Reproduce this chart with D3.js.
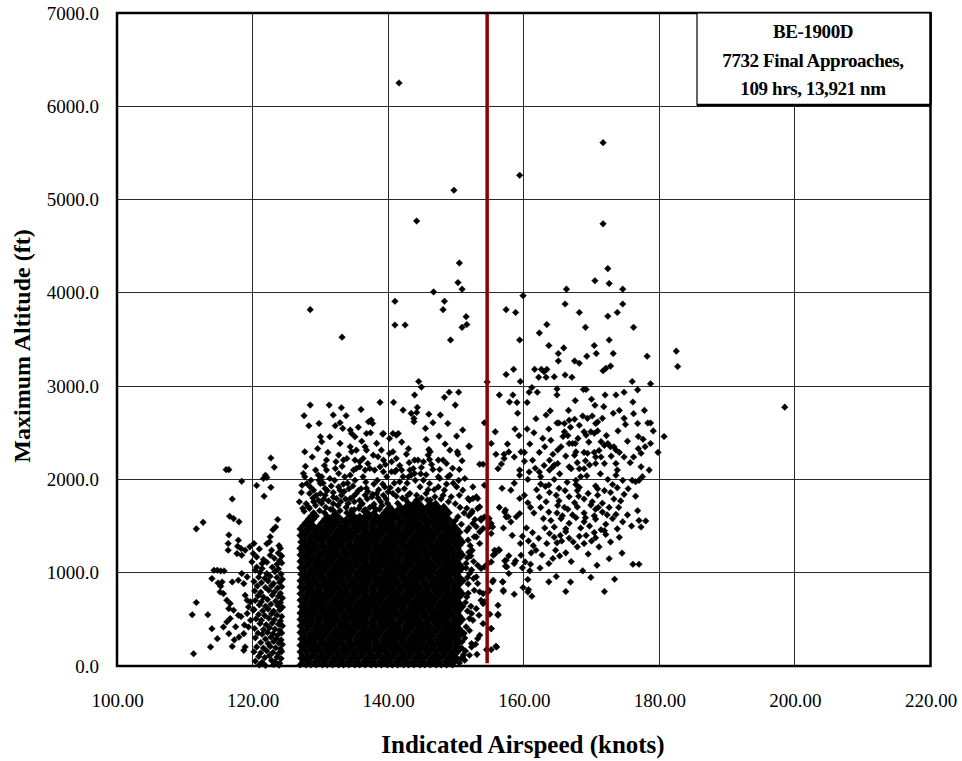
<!DOCTYPE html>
<html>
<head>
<meta charset="utf-8">
<script src="https://cdn.jsdelivr.net/npm/d3@7"></script>
<style>
  body { margin: 0; background: #fff; }
  text { font-family: "Liberation Serif", "Times New Roman", serif; fill: #000; }
</style>
</head>
<body>
<svg id="chart" width="962" height="761"></svg>
<script>
// Axis ticks
const xTicks = [100, 120, 140, 160, 180, 200, 220];
const yTicks = [0, 1000, 2000, 3000, 4000, 5000, 6000, 7000];

// Speed limit reference line (knots)
const refSpeed = 154.6;

const legendLines = ["BE-1900D", "7732 Final Approaches,", "109 hrs, 13,921 nm"];

// [indicated airspeed (kt), max altitude (ft)]
const highPoints = [
  [141.6,6250],[171.7,5610],[159.4,5260],[149.7,5100],[144.2,4770],[171.7,4740],[150.5,4320],[172.4,4260],
  [150.3,4110],[150.9,4040],[170.5,4130],[172.6,4100],[146.7,4010],[166.3,4040],[174.6,4040],[159.9,3970],
  [141.0,3910],[148.3,3910],[128.5,3820],[148.1,3820],[157.4,3820],[158.8,3790],[166.1,3880],[168.2,3790],
  [172.4,3750],[173.8,3790],[174.6,3880],[151.5,3745],[141.0,3655],[142.5,3655],[151.6,3660],[150.9,3630],
  [163.4,3660],[169.1,3630],[176.2,3630],[133.2,3525],[149.2,3495],[159.4,3495],[172.6,3495],[162.3,3570],
  [163.7,3435],[165.9,3410],[170.4,3435],[165.1,3350],[170.7,3350],[173.2,3350],[178.2,3320],[182.5,3375],
  [182.7,3210],[165.1,3270],[167.5,3270],[168.2,3245],[169.3,3320],[172.8,3215],[171.7,3165],[172.1,3190],
  [161.6,3180],[162.6,3180],[163.0,3155],[163.4,3180],[162.2,3095],[163.3,3095],[164.5,3100],[166.1,3120],
  [167.1,3095],[157.4,3125],[158.5,3180],[159.5,3050],[161.2,2985],[176.0,3050],[178.7,3025],[176.8,2960],
  [144.5,3050],[144.9,2990],[143.9,2905],[149.0,2935],[150.4,2935],[148.3,2880],[154.6,3045],[160.8,2935],
  [162.0,2935],[164.9,2970],[164.9,2905],[168.8,2965],[169.2,2965],[172.0,2905],[173.6,2905],[174.8,2935],
  [156.4,2905],[158.4,2905],[198.5,2775]
];

const fastGroup = [
  [159.0,2825],[157.9,2830],[160.5,2825],[176.1,2830],[159.1,2710],[163.9,2735],[166.6,2740],[167.6,2845],
  [170.5,2795],[173.2,2710],[176.2,2705],[177.8,2740],[155.8,2510],[158.7,2540],[160.5,2540],[159.3,2470],
  [163.7,2540],[164.9,2605],[165.2,2605],[166.0,2600],[166.7,2635],[167.5,2645],[168.7,2680],[169.4,2655],
  [170.1,2680],[170.9,2615],[171.6,2655],[174.8,2655],[176.8,2600],[178.3,2605],[178.7,2605],[180.7,2460],
  [179.8,2290],[155.2,2385],[155.9,2270],[157.1,2270],[157.8,2295],[158.6,2240],[159.6,2295],[156.2,2115],
  [156.7,2165],[157.1,2225],[159.4,2100],[159.4,2045],[160.1,2195],[161.3,2205],[162.3,2290],[160.8,2080],
  [162.3,2080],[162.5,2030],[163.8,2205],[164.3,2270],[165.0,2315],[165.5,2350],[164.5,2155],[165.0,2170],
  [166.0,2510],[166.5,2470],[166.7,2385],[167.2,2385],[167.6,2385],[168.2,2580],[168.9,2510],[169.2,2475],
  [169.9,2510],[170.4,2495],[170.6,2600],[171.4,2405],[171.9,2365],[172.4,2385],[172.8,2350],[173.3,2350],
  [173.6,2315],[168.9,2290],[169.4,2280],[170.4,2290],[170.6,2240],[167.7,2295],[167.5,2260],[166.7,2135],
  [167.0,2115],[168.2,2115],[168.9,2115],[169.7,2155],[170.6,2170],[171.4,2240],[171.9,2170],[173.6,2170],
  [173.8,2100],[173.6,2045],[174.8,2240],[176.2,2240],[177.3,2280],[177.9,2350],[178.7,2385],[177.3,2135],
  [178.5,2100],[177.5,2030],[177.0,1990],[176.0,1990],[176.5,1975],[163.8,2100],[164.3,2135],[167.7,1990],
  [168.4,2030],[162.5,1950],[163.2,1925],[163.7,1940],[165.2,1905],[167.7,1945],[168.2,1915],[170.6,1930],
  [170.9,1900],[173.1,1945],[173.8,1910],[162.3,1810],[163.8,1860],[165.2,1770],[166.7,1815],[167.5,1750],
  [167.9,1880],[168.9,1790],[170.1,1760],[170.9,1830],[171.6,1745],[172.8,1860],[174.3,1770],[176.5,1820],
  [162.5,1700],[163.7,1650],[165.0,1720],[165.7,1610],[166.5,1680],[167.2,1620],[167.9,1705],[168.9,1640],
  [169.9,1725],[170.4,1610],[170.6,1680],[171.6,1650],[172.6,1700],[173.6,1625],[176.8,1665],[164.0,1560],
  [164.5,1490],[165.5,1580],[166.2,1470],[166.7,1530],[167.7,1590],[168.4,1480],[168.9,1545],[169.7,1500],
  [170.6,1575],[171.4,1460],[172.1,1520],[173.1,1580],[173.8,1470],[174.6,1545],[177.0,1560],[178.0,1555],
  [177.3,1490],[163.8,1420],[164.5,1380],[166.2,1440],[166.7,1370],[169.2,1400],[170.4,1430],[170.6,1375],
  [172.1,1410],[156.8,1905],[158.1,1885],[159.4,1795],[157.2,1650],[157.7,1600],[158.1,1545],[158.9,1600],
  [159.4,1635],[160.6,1750],[160.1,1830],[161.0,1700],[160.4,1480],[161.3,1430],[159.8,1390],
  [159.5,1313],[160.7,1340],[163.4,1313],[164.9,1320],[165.6,1340],[167.9,1277],[168.9,1313],[171.1,1277],
  [164.7,1241],[166.2,1213],[161.8,1241],[161.1,1213],[159.6,1188],[157.8,1181],[157.2,1127],[158.8,1127],
  [158.6,1098],[155.8,1206],[156.3,1249],[155.5,1188],[160.2,1116],[161.0,1091],[163.7,1098],[164.3,1152],
  [157.5,1063],[157.8,991],[159.8,1052],[160.9,1020],[168.7,1020],[176.1,1091],[177.0,1091],[163.7,902],
  [160.6,927],[156.9,902],[155.4,902],[159.9,841],[160.7,819],[161.2,748],[160.6,794],[158.6,769],
  [157.0,798],[166.2,798],[171.9,798],[173.4,930],[156.2,651],[156.2,555],[155.0,555],[155.2,401],
  [156.0,204],[155.2,175],
  [160.9,2380],[161.5,2500],[162.8,2440],[163.1,2350],[164.0,2420],[165.8,2460],[166.9,2560],[168.0,2440],
  [169.6,2400],[170.9,2520],[172.2,2470],[173.9,2520],[175.3,2410],[176.9,2460],[174.1,2290],[175.7,2180],
  [176.9,2330],[172.9,2250],[171.1,2310],[169.1,2200],[167.9,2180],[166.2,2250],[165.3,2060],[163.0,2150],
  [161.7,2120],[160.6,2000],[161.9,1890],[164.5,2000],[166.4,1970],[169.3,2040],[171.3,2060],[172.4,2000],
  [174.6,1990],[175.4,1900],[174.8,1840],[173.3,1790],[171.9,1880],[169.5,1850],[168.1,1820],[166.1,1880],
  [164.8,1830],[163.3,1760],[161.5,1640],[162.9,1580],[164.9,1640],[166.0,1700],[169.1,1590],[171.0,1700],
  [172.3,1620],[174.0,1700],[175.3,1620],[175.9,1500],[174.1,1380],[172.8,1330],[171.9,1450],[170.0,1340],
  [168.2,1390],[167.3,1330],[165.4,1400],[163.1,1480],[162.2,1370],[161.4,1290],[162.7,1190],[165.3,1180],
  [167.0,1120],[169.5,1200],[170.8,1080],[172.6,1150],[174.5,1210],[162.4,1050],[164.8,960],[166.9,900],
  [169.9,950],[158.3,1400],[157.0,1480],[156.4,1700],[158.6,1960],[160.1,2290],[157.6,2380],[161.8,2650],
  [163.3,2690],[171.8,2780],[174.1,2740],[170.0,2860],[175.0,2590],[177.6,2430],[179.1,2520]
];

// Points between the dense block and the 154.6 kt line
const nearLimit = [
  [153.7,1581],[154.9,1581],[155.2,1528],[157.3,1671],[157.4,1599],[153.0,1492],[153.5,1438],[154.0,1474],
  [152.7,1385],[153.5,1313],[155.7,1241],[156.4,1241],[155.2,1116],[154.7,1098],[157.4,1134],[157.3,1070],
  [153.2,1080],[153.7,1045],[154.2,1063],[152.0,991],[152.6,937],[153.0,955],[153.2,884],[155.5,920],
  [156.9,902],[157.0,812],[152.7,812],[153.5,794],[154.0,776],[154.7,794],[153.7,705],[154.2,687],
  [156.2,544],[153.0,615],[152.3,562],[153.4,544],[152.0,508],[152.5,490],[154.0,454],[155.2,401],
  [153.5,329],[153.2,293],[152.3,240],[152.9,233],[155.9,211],[152.3,204],[152.0,115],[153.1,125],
  [154.5,175],[151.0,97],[151.3,61],[150.5,32],[154.0,669],[154.9,812],[152.0,1777],[152.5,1795],
  [153.2,1795],[153.5,1706],[154.2,1598],[154.9,1491],[153.7,1563],[155.4,1491],[155.2,1420],[152.5,1527],
  [153.0,1384],[152.0,2353],[153.5,2163],[154.0,2163],[151.6,1450],[151.8,1350],[151.9,1220],[151.7,1160],
  [152.1,1290],[151.5,1050],[151.8,880],[151.6,740],[151.4,680],[151.5,420],[151.2,350],[150.9,260],
  [151.4,160],[150.8,80],[151.9,1610],[151.6,1690],[152.4,1660],
  [151.9,1480],[152.2,1180],[151.5,1100],[152.3,1030],[151.7,950],[152.6,1120],[151.8,780],[152.2,640],
  [151.7,590],[152.0,380],[151.3,300],[150.9,190],[151.1,120],[152.4,1240],[152.8,1570],[152.3,1640],
  [153.2,1690]
];

// Sparse points above the dense block
const upperFringe = [
  [128.5,2797],[131.3,2797],[133.1,2768],[127.6,2683],[128.3,2575],[133.8,2683],[132.2,2575],[132.9,2607],
  [133.3,2547],[134.4,2529],[134.6,2493],[130.0,2457],[130.2,2404],[131.4,2457],[132.9,2386],[135.1,2457],
  [136.8,2493],[137.5,2636],[137.1,2618],[137.7,2600],[138.8,2826],[140.8,2826],[138.3,2386],[139.3,2493],
  [140.2,2439],[140.7,2493],[141.2,2475],[127.7,2296],[134.4,2350],[134.6,2296],[135.3,2314],[136.6,2350],
  [136.8,2314],[132.7,2261],[132.3,2189],[133.4,2207],[133.9,2225],[130.9,2207],[135.1,2207],[135.8,2189],
  [136.3,2225],[137.8,2260],[138.5,2243],[139.0,2314],[139.3,2207],[140.2,2278],[140.5,2189],[140.7,2296],
  [141.2,2225],[127.5,2064],[127.7,2028],[127.3,1938],[128.0,1956],[128.5,1920],[129.0,1885],[129.7,2046],
  [130.2,2028],[130.0,1956],[130.7,1903],[131.4,2010],[130.9,2100],[132.2,2117],[132.7,2064],[132.7,1920],
  [132.9,1885],[133.6,2028],[134.4,2046],[134.9,2100],[135.3,2117],[135.8,2135],[136.3,2028],[136.6,2100],
  [137.3,2117],[138.0,2100],[138.8,2135],[139.3,2082],[139.8,2028],[140.5,2082],[141.2,2100],[126.9,1760],
  [128.2,1706],[129.7,1777],[130.2,1742],[130.7,1831],[130.0,1849],[132.4,1795],[133.1,1831],[134.1,1742],
  [134.4,1795],[135.3,1849],[135.8,1777],[136.6,1831],[137.6,1813],[138.3,1849],[139.3,1831],[140.0,1867],
  [140.7,1849],[141.5,1885],[128.9,1800],[131.2,1770],[133.0,1760],[134.9,1820],[136.2,1740],[137.0,1870],
  [138.9,1760],[139.7,1790],[131.9,1860],[129.3,1720],[127.4,1690],[131.6,1930],[134.0,1960],[136.0,1900],
  [137.9,1950],[139.5,1920],[135.1,1990],[129.8,1990],
  [149.9,2797],[142.2,2743],[143.4,2708],[144.2,2718],[143.8,2654],[143.8,2618],[144.3,2772],[147.7,2690],
  [146.6,2608],[145.5,2547],[147.5,2464],[150.1,2464],[145.6,2429],[139.2,2486],[141.5,2493],[151.9,2357],
  [146.0,2321],[146.2,2296],[145.9,2261],[149.1,2314],[150.2,2296],[150.3,2271],[142.7,2271],[154.2,2607],
  [143.9,2207],[144.4,2207],[145.2,2189],[146.1,2214],[147.4,2207],[148.1,2207],[148.6,2171],[150.5,2107],
  [147.6,2107],[146.6,2107],[144.9,2128],[143.7,2117],[143.2,2100],[142.0,2100],[141.0,2082],[143.0,2028],
  [143.4,2046],[143.9,2064],[147.4,2028],[147.6,2010],[148.8,2028],[149.1,2046],[145.2,1992],[146.1,1956],
  [141.7,1974],[144.7,1920],[147.4,1920],[148.3,1885],[150.1,1920],[151.0,1885],[152.5,1920],[154.2,1938],
  [143.2,1849],[144.2,1831],[145.6,1849],[146.9,1813],[148.1,1831],[149.3,1813],[150.5,1831],[151.8,1795],
  [153.0,1813],[142.4,1900],[145.9,1890],[149.6,1960],[151.3,2010],[142.8,1960],
  [127.6,1660],[128.4,1690],[129.9,1665],[130.8,1700],[131.5,1680],[132.9,1665],[133.8,1700],[134.6,1672],
  [135.7,1690],[136.4,1660],[137.3,1700],[138.7,1680],[139.1,1720],[127.9,1740],[129.0,1760],[130.5,1790],
  [131.9,1740],[132.6,1720],[133.7,1790],[135.0,1760],[135.9,1720],[136.9,1790],[137.9,1735],[138.5,1800],
  [139.9,1745],[128.4,1850],[129.4,1830],[131.0,1880],[131.9,1810],[133.5,1870],[134.2,1900],[135.6,1880],
  [136.8,1905],[137.7,1840],[138.6,1890],[140.3,1910],[141.2,1820],[142.1,1800],[142.9,1830],[144.9,1800],
  [146.2,1780],[147.8,1790],[148.9,1760],[149.9,1740],[150.6,1700],[151.2,1640],[150.3,1600],[149.9,1560],
  [150.8,1520],[128.6,1990],[130.4,1960],[132.1,1990],[133.4,1950],[134.8,1930],[136.7,1970],[138.4,1990],
  [139.2,1950],[140.9,1960],[142.2,2030],[144.0,1990],[145.6,2050],[146.8,1890],[148.6,1950],[150.4,1990],
  [127.2,1860],[127.8,2140],[129.3,2100],[130.6,2150],[133.2,2140],[137.0,2170],[139.6,2160],[141.7,2150],
  [143.1,2180],[144.8,2060],[146.4,2160],[149.5,2120],[150.9,2200],[128.8,2240],[129.6,2330],[131.1,2290],
  [136.1,2410],[137.4,2500],[142.0,2400],[143.0,2330],[148.4,2380],[151.0,2530],[146.0,2700],[148.8,2600],
  [131.9,2690],[135.6,2560],[129.8,2600],[136.0,2750]
];

// Slower approaches (111-125 kt)
const slowGroup = [
  [111.7,1470],[112.7,1540],[116.1,2105],[116.5,2105],[118.4,1980],[117.0,1790],[116.6,1605],[117.2,1580],
  [118.0,1545],[116.5,1405],[111.7,680],[111.1,550],[113.4,550],[114.0,400],[114.8,293],[113.8,204],
  [111.3,132],[114.3,1026],[114.8,1026],[115.3,1019],[115.8,1019],[114.0,937],[114.9,890],[115.3,855],
  [117.9,1348],[117.8,1284],[118.3,1259],[118.9,1241],[119.6,1277],[120.2,1313],[117.7,1205],[118.4,1187],
  [116.4,1313],[116.4,1241],[115.5,901],[117.0,901],[117.9,919],[118.4,991],[119.2,955],[118.7,883],
  [115.2,794],[115.7,776],[116.2,705],[116.7,669],[116.5,615],[117.2,597],[117.9,544],[116.7,508],
  [116.2,472],[115.7,418],[116.5,347],[118.9,758],[119.2,705],[119.7,687],[119.4,633],[120.1,597],
  [119.2,562],[119.7,490],[119.4,418],[118.7,347],[118.9,204],[118.7,168],[117.5,420],[118.3,530],
  [118.8,440],[117.3,280],[117.0,210],[118.0,310],
  [120.6,1935],[122.7,1915],[121.7,1820],[122.7,2230],[123.2,2130],[121.9,2045],[121.6,2010],[122.1,2020],
  [123.7,1570],[123.4,1490],[123.0,1460],[122.6,1385],
  [122.1,1310],[122.5,1332],[123.9,1290],[121.0,1255],[122.8,1240],[124.1,1262],[120.1,1205],[122.6,1188],
  [123.8,1210],[124.3,1180],[120.6,1168],[121.6,1142],[123.2,1155],[124.0,1130],[119.9,1116],[121.4,1098],
  [122.1,1112],[123.6,1090],[124.3,1105],[120.6,1060],[121.4,1045],[122.9,1058],[123.8,1040],[120.4,1026],
  [121.1,1002],[122.1,990],[123.3,1012],[124.2,985],[120.9,952],[121.8,940],[122.6,962],[123.6,948],
  [124.4,930],[120.2,905],[121.3,892],[122.3,910],[123.1,885],[124.0,898],[120.7,858],[121.9,842],
  [122.8,860],[123.7,836],[124.3,850],[120.3,805],[121.2,790],[122.4,812],[123.2,795],[124.1,780],
  [120.8,752],[121.6,740],[122.9,760],[123.8,745],[124.4,728],[120.4,702],[121.3,690],[122.2,712],
  [123.4,695],[124.1,680],[121.0,655],[121.9,640],[122.7,662],[123.7,648],[124.4,630],[120.2,605],
  [121.5,592],[122.3,610],[123.1,588],[124.0,600],[120.9,552],[121.8,540],[122.8,560],[123.6,545],
  [124.3,530],[120.5,505],[121.3,490],[122.4,512],[123.2,495],[124.1,482],[121.1,455],[122.0,442],
  [122.9,460],[123.8,448],[124.4,430],[120.3,402],[121.6,390],[122.5,410],[123.3,395],[124.0,380],
  [120.8,352],[121.4,340],[122.2,360],[123.0,345],[123.7,330],[124.3,355],[120.4,302],[121.9,290],
  [122.7,310],[123.5,295],[124.2,280],[121.2,252],[122.3,240],[123.1,262],[123.9,245],[124.4,230],
  [120.6,205],[121.6,192],[122.6,210],[123.4,195],[124.1,180],[120.2,152],[121.2,140],[122.1,160],
  [123.0,145],[123.8,130],[124.3,155],[120.9,102],[121.8,90],[122.5,110],[123.6,95],[124.2,80],
  [120.4,52],[121.4,40],[122.8,60],[123.3,45],[124.0,30],[121.0,12],[121.9,5],[123.1,15],[123.9,8]
];

// Dense block of approaches: [altitude, airspeeds observed at that altitude]
const coreRows = [
  [12,  [127.0,127.9,128.6,129.4,130.3,131.0,131.8,132.7,133.4,134.2,135.1,135.8,136.6,137.5,138.2,139.0,139.9,140.6,141.4,142.3,143.0,143.8,144.7,145.4,146.2,147.1,147.8,148.6,149.5]],
  [46,  [127.4,128.2,129.1,129.8,130.6,131.5,132.2,133.0,133.9,134.6,135.4,136.3,137.0,137.8,138.7,139.4,140.2,141.1,141.8,142.6,143.5,144.2,145.0,145.9,146.6,147.4,148.3,149.0,149.8]],
  [83,  [127.1,127.8,128.6,129.5,130.2,131.0,131.9,132.6,133.4,134.3,135.0,135.8,136.7,137.4,138.2,139.1,139.8,140.6,141.5,142.2,143.0,143.9,144.6,145.4,146.3,147.0,147.8,148.7,149.4,150.2]],
  [117, [127.3,128.2,129.0,129.9,130.6,131.4,132.3,133.0,133.8,134.7,135.4,136.2,137.1,137.8,138.6,139.5,140.2,141.0,141.9,142.6,143.4,144.3,145.0,145.8,146.7,147.4,148.2,149.1,149.8]],
  [152, [127.0,127.8,128.7,129.4,130.2,131.1,131.8,132.6,133.5,134.2,135.0,135.9,136.6,137.4,138.3,139.0,139.8,140.7,141.4,142.2,143.1,143.8,144.6,145.5,146.2,147.0,147.9,148.6,149.4,150.3]],
  [186, [127.4,128.3,129.0,129.8,130.7,131.4,132.2,133.1,133.8,134.6,135.5,136.2,137.0,137.9,138.6,139.4,140.3,141.0,141.8,142.7,143.4,144.2,145.1,145.8,146.6,147.5,148.2,149.0,149.9,150.6]],
  [221, [127.0,127.8,128.6,129.4,130.3,131.0,131.8,132.6,133.4,134.3,135.0,135.8,136.6,137.4,138.3,139.0,139.8,140.6,141.4,142.3,143.0,143.8,144.6,145.4,146.3,147.0,147.8,148.6,149.4,150.2]],
  [255, [127.4,128.2,129.0,129.9,130.6,131.4,132.2,133.0,133.9,134.6,135.4,136.2,137.0,137.9,138.6,139.4,140.2,141.0,141.9,142.6,143.4,144.2,145.0,145.9,146.6,147.4,148.2,149.0,149.9,150.6]],
  [290, [127.1,127.8,128.6,129.4,130.2,131.1,131.8,132.6,133.4,134.2,135.1,135.8,136.6,137.4,138.2,139.1,139.8,140.6,141.4,142.2,143.1,143.8,144.6,145.4,146.2,147.1,147.8,148.6,149.4,150.2]],
  [325, [127.4,128.3,129.0,129.8,130.6,131.5,132.2,133.0,133.8,134.6,135.5,136.2,137.0,137.8,138.6,139.5,140.2,141.0,141.8,142.6,143.5,144.2,145.0,145.8,146.6,147.5,148.2,149.0,149.8,150.6]],
  [359, [127.0,127.8,128.7,129.4,130.2,131.0,131.9,132.6,133.4,134.2,135.0,135.9,136.6,137.4,138.2,139.0,139.9,140.6,141.4,142.2,143.0,143.9,144.6,145.4,146.2,147.0,147.9,148.6,149.4,150.2,151.0]],
  [394, [127.4,128.2,129.1,129.8,130.6,131.4,132.3,133.0,133.8,134.6,135.4,136.3,137.0,137.8,138.6,139.4,140.3,141.0,141.8,142.6,143.4,144.3,145.0,145.8,146.6,147.4,148.3,149.0,149.8,150.6]],
  [429, [127.0,127.9,128.6,129.4,130.2,131.0,131.8,132.7,133.4,134.2,135.0,135.8,136.6,137.5,138.2,139.0,139.8,140.6,141.4,142.3,143.0,143.8,144.6,145.4,146.2,147.1,147.8,148.6,149.4,150.2]],
  [463, [127.4,128.2,129.0,129.8,130.7,131.4,132.2,133.0,133.8,134.7,135.4,136.2,137.0,137.8,138.7,139.4,140.2,141.0,141.8,142.7,143.4,144.2,145.0,145.8,146.7,147.4,148.2,149.0,149.8,150.6]],
  [498, [127.0,127.8,128.6,129.5,130.2,131.0,131.8,132.6,133.5,134.2,135.0,135.8,136.6,137.5,138.2,139.0,139.8,140.6,141.5,142.2,143.0,143.8,144.6,145.5,146.2,147.0,147.8,148.6,149.5,150.2,151.0]],
  [533, [127.3,128.2,129.0,129.8,130.6,131.4,132.2,133.1,133.8,134.6,135.4,136.2,137.0,137.9,138.6,139.4,140.2,141.0,141.8,142.6,143.4,144.2,145.1,145.8,146.6,147.4,148.2,149.0,149.8,150.6]],
  [567, [127.0,127.8,128.6,129.4,130.3,131.0,131.8,132.6,133.4,134.3,135.0,135.8,136.6,137.4,138.3,139.0,139.8,140.6,141.4,142.3,143.0,143.8,144.6,145.4,146.3,147.0,147.8,148.6,149.4,150.3]],
  [602, [127.4,128.2,129.0,129.9,130.6,131.4,132.2,133.0,133.9,134.6,135.4,136.2,137.0,137.9,138.6,139.4,140.2,141.0,141.9,142.6,143.4,144.2,145.0,145.9,146.6,147.4,148.2,149.0,149.9,150.6]],
  [637, [127.1,127.8,128.6,129.4,130.2,131.1,131.8,132.6,133.4,134.2,135.1,135.8,136.6,137.4,138.2,139.1,139.8,140.6,141.4,142.2,143.1,143.8,144.6,145.4,146.2,147.1,147.8,148.6,149.4,150.2,151.0]],
  [671, [127.4,128.3,129.0,129.8,130.6,131.5,132.2,133.0,133.8,134.6,135.5,136.2,137.0,137.8,138.6,139.5,140.2,141.0,141.8,142.6,143.5,144.2,145.0,145.8,146.6,147.5,148.2,149.0,149.8,150.6]],
  [706, [127.0,127.8,128.7,129.4,130.2,131.0,131.9,132.6,133.4,134.2,135.0,135.9,136.6,137.4,138.2,139.0,139.9,140.6,141.4,142.2,143.0,143.9,144.6,145.4,146.2,147.0,147.9,148.6,149.4,150.2]],
  [741, [127.4,128.2,129.1,129.8,130.6,131.4,132.3,133.0,133.8,134.6,135.4,136.3,137.0,137.8,138.6,139.4,140.3,141.0,141.8,142.6,143.4,144.3,145.0,145.8,146.6,147.4,148.3,149.0,149.8,150.6]],
  [775, [127.0,127.9,128.6,129.4,130.2,131.0,131.8,132.7,133.4,134.2,135.0,135.8,136.6,137.5,138.2,139.0,139.8,140.6,141.4,142.3,143.0,143.8,144.6,145.4,146.2,147.1,147.8,148.6,149.4,150.2,151.0]],
  [810, [127.4,128.2,129.0,129.8,130.7,131.4,132.2,133.0,133.8,134.7,135.4,136.2,137.0,137.8,138.7,139.4,140.2,141.0,141.8,142.7,143.4,144.2,145.0,145.8,146.7,147.4,148.2,149.0,149.8,150.6]],
  [845, [127.0,127.8,128.6,129.5,130.2,131.0,131.8,132.6,133.5,134.2,135.0,135.8,136.6,137.5,138.2,139.0,139.8,140.6,141.5,142.2,143.0,143.8,144.6,145.5,146.2,147.0,147.8,148.6,149.5,150.2]],
  [879, [127.3,128.2,129.0,129.8,130.6,131.4,132.2,133.1,133.8,134.6,135.4,136.2,137.0,137.9,138.6,139.4,140.2,141.0,141.8,142.6,143.4,144.2,145.1,145.8,146.6,147.4,148.2,149.0,149.8,150.6]],
  [914, [127.0,127.8,128.6,129.4,130.3,131.0,131.8,132.6,133.4,134.3,135.0,135.8,136.6,137.4,138.3,139.0,139.8,140.6,141.4,142.3,143.0,143.8,144.6,145.4,146.3,147.0,147.8,148.6,149.4,150.3,151.1]],
  [949, [127.4,128.2,129.0,129.9,130.6,131.4,132.2,133.0,133.9,134.6,135.4,136.2,137.0,137.9,138.6,139.4,140.2,141.0,141.9,142.6,143.4,144.2,145.0,145.9,146.6,147.4,148.2,149.0,149.9,150.6]],
  [983, [127.1,127.8,128.6,129.4,130.2,131.1,131.8,132.6,133.4,134.2,135.1,135.8,136.6,137.4,138.2,139.1,139.8,140.6,141.4,142.2,143.1,143.8,144.6,145.4,146.2,147.1,147.8,148.6,149.4,150.2]],
  [1018,[127.4,128.3,129.0,129.8,130.6,131.5,132.2,133.0,133.8,134.6,135.5,136.2,137.0,137.8,138.6,139.5,140.2,141.0,141.8,142.6,143.5,144.2,145.0,145.8,146.6,147.5,148.2,149.0,149.8,150.6]],
  [1053,[127.0,127.8,128.7,129.4,130.2,131.0,131.9,132.6,133.4,134.2,135.0,135.9,136.6,137.4,138.2,139.0,139.9,140.6,141.4,142.2,143.0,143.9,144.6,145.4,146.2,147.0,147.9,148.6,149.4,150.2,151.0]],
  [1087,[127.4,128.2,129.1,129.8,130.6,131.4,132.3,133.0,133.8,134.6,135.4,136.3,137.0,137.8,138.6,139.4,140.3,141.0,141.8,142.6,143.4,144.3,145.0,145.8,146.6,147.4,148.3,149.0,149.8,150.6]],
  [1122,[127.0,127.9,128.6,129.4,130.2,131.0,131.8,132.7,133.4,134.2,135.0,135.8,136.6,137.5,138.2,139.0,139.8,140.6,141.4,142.3,143.0,143.8,144.6,145.4,146.2,147.1,147.8,148.6,149.4,150.2]],
  [1157,[127.4,128.2,129.0,129.8,130.7,131.4,132.2,133.0,133.8,134.7,135.4,136.2,137.0,137.8,138.7,139.4,140.2,141.0,141.8,142.7,143.4,144.2,145.0,145.8,146.7,147.4,148.2,149.0,149.8,150.6]],
  [1191,[127.0,127.8,128.6,129.5,130.2,131.0,131.8,132.6,133.5,134.2,135.0,135.8,136.6,137.5,138.2,139.0,139.8,140.6,141.5,142.2,143.0,143.8,144.6,145.5,146.2,147.0,147.8,148.6,149.5,150.2,151.0]],
  [1226,[127.3,128.2,129.0,129.8,130.6,131.4,132.2,133.1,133.8,134.6,135.4,136.2,137.0,137.9,138.6,139.4,140.2,141.0,141.8,142.6,143.4,144.2,145.1,145.8,146.6,147.4,148.2,149.0,149.8,150.6]],
  [1261,[127.0,127.8,128.6,129.4,130.3,131.0,131.8,132.6,133.4,134.3,135.0,135.8,136.6,137.4,138.3,139.0,139.8,140.6,141.4,142.3,143.0,143.8,144.6,145.4,146.3,147.0,147.8,148.6,149.4,150.3]],
  [1295,[127.4,128.2,129.0,129.9,130.6,131.4,132.2,133.0,133.9,134.6,135.4,136.2,137.0,137.9,138.6,139.4,140.2,141.0,141.9,142.6,143.4,144.2,145.0,145.9,146.6,147.4,148.2,149.0,149.9,150.6]],
  [1330,[127.1,127.8,128.6,129.4,130.2,131.1,131.8,132.6,133.4,134.2,135.1,135.8,136.6,137.4,138.2,139.1,139.8,140.6,141.4,142.2,143.1,143.8,144.6,145.4,146.2,147.1,147.8,148.6,149.4,150.2,151.0]],
  [1365,[127.4,128.3,129.0,129.8,130.6,131.5,132.2,133.0,133.8,134.6,135.5,136.2,137.0,137.8,138.6,139.5,140.2,141.0,141.8,142.6,143.5,144.2,145.0,145.8,146.6,147.5,148.2,149.0,149.8,150.6]],
  [1399,[127.0,127.8,128.7,129.4,130.2,131.0,131.9,132.6,133.4,134.2,135.0,135.9,136.6,137.4,138.2,139.0,139.9,140.6,141.4,142.2,143.0,143.9,144.6,145.4,146.2,147.0,147.9,148.6,149.4,150.2]],
  [1434,[127.4,128.2,129.1,129.8,130.6,131.4,132.3,133.0,133.8,134.6,135.4,136.3,137.0,137.8,138.6,139.4,140.3,141.0,141.8,142.6,143.4,144.3,145.0,145.8,146.6,147.4,148.3,149.0,149.8,150.6]],
  [1469,[127.0,127.9,128.6,129.4,130.2,131.0,131.8,132.7,133.4,134.2,135.0,135.8,136.6,137.5,138.2,139.0,139.8,140.6,141.4,142.3,143.0,143.8,144.6,145.4,146.2,147.1,147.8,148.6,149.4,150.2]],
  [1503,[127.4,128.2,129.0,129.8,130.7,131.4,132.2,133.0,133.8,134.7,135.4,136.2,137.0,137.8,138.7,139.4,140.2,141.0,141.8,142.7,143.4,144.2,145.0,145.8,146.7,147.4,148.2,149.0,149.8]],
  [1538,[127.8,128.6,130.2,131.0,131.8,132.6,133.5,134.2,135.0,135.8,136.6,137.5,138.2,139.0,139.8,140.6,141.5,142.2,143.0,143.8,144.6,145.5,146.2,147.0,147.8,148.6,149.5]],
  [1573,[128.2,129.0,130.6,131.4,132.2,133.1,133.8,134.6,135.4,136.2,137.0,137.9,138.6,139.4,140.2,141.0,141.8,142.6,143.4,144.2,145.1,145.8,146.6,147.4,148.2,149.0]],
  [1607,[128.6,129.4,131.0,131.8,132.6,134.3,135.0,135.8,136.6,137.4,138.3,139.0,139.8,140.6,141.4,142.3,143.0,143.8,144.6,145.4,146.3,147.0,147.8,148.6]],
  [1642,[129.0,130.6,132.2,133.9,134.6,137.0,137.9,139.4,140.2,141.0,141.9,142.6,143.4,144.2,145.0,145.9,146.6,147.4,148.2,149.0]],
  [1676,[131.8,135.0,136.6,138.2,139.8,140.6,141.4,142.2,143.0,143.8,144.6,145.4,146.2,147.0,147.8,148.6]],
  [1711,[137.8,140.2,141.8,142.6,143.4,144.2,145.0,145.8,146.6,147.4,148.2]],
  [1745,[141.4,143.0,143.8,144.6,146.2,147.0]],
  [1780,[142.6,144.2,145.8]]
];

// ---- layout ----
const svg = d3.select("#chart");
const plot = { left: 117, right: 930.5, top: 13, bottom: 666 };

const x = d3.scaleLinear().domain([100, 220]).range([plot.left, plot.right]);
const y = d3.scaleLinear().domain([0, 7000]).range([plot.bottom, plot.top]);

svg.append("rect").attr("width", 962).attr("height", 761).attr("fill", "#fff");

// gridlines
const grid = svg.append("g").attr("stroke", "#2a2a2a").attr("stroke-width", 1).attr("shape-rendering", "crispEdges");
grid.selectAll("line.v").data(xTicks.slice(1, -1)).join("line")
  .attr("x1", d => x(d)).attr("x2", d => x(d)).attr("y1", plot.top).attr("y2", plot.bottom);
grid.selectAll("line.h").data(yTicks.slice(1, -1)).join("line")
  .attr("x1", plot.left).attr("x2", plot.right).attr("y1", d => y(d)).attr("y2", d => y(d));

// scatter points (small filled diamonds)
const corePts = coreRows.flatMap(([alt, speeds]) => speeds.map(s => [s, alt]));
const allPts = [].concat(corePts, upperFringe, nearLimit, slowGroup, fastGroup, highPoints);
const diamond = "M0,-3.3L3.3,0L0,3.3L-3.3,0Z";
svg.append("g").attr("fill", "#000").attr("stroke", "#000").attr("stroke-width", 0.5)
  .selectAll("path").data(allPts).join("path")
  .attr("d", diamond)
  .attr("transform", d => `translate(${x(d[0])},${y(d[1])})`);

// reference airspeed line
svg.append("line")
  .attr("x1", x(refSpeed)).attr("x2", x(refSpeed))
  .attr("y1", y(30)).attr("y2", y(7000))
  .attr("stroke", "#8b0000").attr("stroke-width", 3.5);

// frame
svg.append("rect")
  .attr("x", plot.left).attr("y", plot.top)
  .attr("width", plot.right - plot.left).attr("height", plot.bottom - plot.top)
  .attr("fill", "none").attr("stroke", "#000").attr("stroke-width", 2.5);

// axes
const yAxis = svg.append("g").attr("transform", `translate(${plot.left},0)`)
  .call(d3.axisLeft(y).tickValues(yTicks).tickFormat(d3.format(".1f")).tickSize(0).tickPadding(18));
const xAxis = svg.append("g").attr("transform", `translate(0,${plot.bottom})`)
  .call(d3.axisBottom(x).tickValues(xTicks).tickFormat(d3.format(".2f")).tickSize(0).tickPadding(28));
[yAxis, xAxis].forEach(g => {
  g.select(".domain").remove();
  g.selectAll("text").attr("font-family", "Liberation Serif").attr("font-size", 19).attr("fill", "#000");
});

// axis titles
svg.append("text")
  .attr("x", 523).attr("y", 753).attr("text-anchor", "middle")
  .attr("font-size", 25).attr("font-weight", "bold")
  .text("Indicated Airspeed (knots)");
svg.append("text")
  .attr("transform", "translate(30,346) rotate(-90)").attr("text-anchor", "middle")
  .attr("font-size", 24).attr("font-weight", "bold")
  .text("Maximum Altitude (ft)");

// legend box
const lg = svg.append("g");
lg.append("rect").attr("x", 697).attr("y", plot.top).attr("width", plot.right - 697).attr("height", 92)
  .attr("fill", "#fff").attr("stroke", "#000").attr("stroke-width", 1.2);
lg.append("line").attr("x1", 697).attr("x2", plot.right).attr("y1", plot.top + 92).attr("y2", plot.top + 92)
  .attr("stroke", "#000").attr("stroke-width", 2.5);
lg.append("line").attr("x1", plot.right).attr("x2", plot.right).attr("y1", plot.top).attr("y2", plot.top + 92)
  .attr("stroke", "#000").attr("stroke-width", 2.5);
lg.selectAll("text").data(legendLines).join("text")
  .attr("x", 813).attr("y", (d, i) => 38 + i * 28.5)
  .attr("text-anchor", "middle").attr("font-size", 19).attr("font-weight", "bold")
  .attr("letter-spacing", -0.4)
  .text(d => d);
</script>
</body>
</html>
